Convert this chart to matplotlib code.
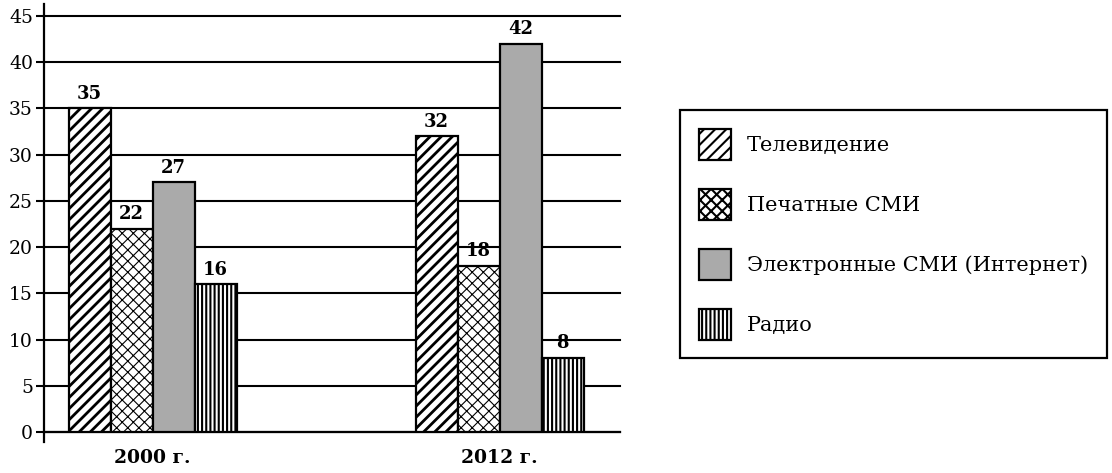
import numpy as np
import matplotlib
matplotlib.use("Agg")
import matplotlib.pyplot as plt
from matplotlib.lines import Line2D

years = ["2000 г.", "2012 г."]
media = ["Телевидение", "Печатные СМИ", "Электронные СМИ (Интернет)", "Радио"]
tv = [35, 32]
press = [22, 18]
internet = [27, 42]
radio = [16, 8]
yticks = list(range(0, 50, 5))

series = [tv, press, internet, radio]
styles = [
    dict(facecolor="white", hatch="///", hlw=2.0),
    dict(facecolor="white", hatch="xxx", hlw=0.8),
    dict(facecolor="#aaaaaa", hatch=None, hlw=1.0),
    dict(facecolor="white", hatch="||||", hlw=1.5),
]

plt.rcParams["font.family"] = ["DejaVu Serif"]

fig = plt.figure(figsize=(11.12, 4.73), dpi=100)
ax = fig.add_axes([44 / 1112, 1 - 432 / 473, (620 - 44) / 1112, (432 - 16) / 473])

x = np.arange(len(years))
w = 0.121
handles = []
for i, (vals, st) in enumerate(zip(series, styles)):
    pos = x + (i - 1.5) * w
    plt.rcParams["hatch.linewidth"] = st["hlw"]
    bars = ax.bar(pos, vals, width=w, facecolor=st["facecolor"], edgecolor="black",
                  hatch=st["hatch"], linewidth=1.6, zorder=3)
    for b in bars:
        try:
            b.set_hatch_linewidth(st["hlw"])
        except AttributeError:
            pass
    handles.append(bars[0])
    for p, v in zip(pos, vals):
        ax.text(p, v + 0.6, str(v), ha="center", va="bottom", fontsize=13,
                fontweight="bold", zorder=4)

ax.set_xlim(-0.3127, 1.347)
ax.set_ylim(0, 45)
ax.set_yticks(yticks)
ax.set_yticklabels([str(t) for t in yticks], fontsize=13.5)
ax.yaxis.grid(True, color="black", linewidth=1.5, zorder=0)
for gl in ax.get_ygridlines():
    gl.set_clip_on(False)
ax.set_axisbelow(True)
ax.tick_params(axis="y", direction="out", length=6, width=1.5, pad=2)
ax.set_xticks(x)
ax.set_xticklabels(years, fontsize=13.5, fontweight="bold")
ax.tick_params(axis="x", length=0, pad=12)
for s in ["top", "right", "left"]:
    ax.spines[s].set_visible(False)
ax.spines["bottom"].set_linewidth(1.6)
ax.add_line(Line2D([-0.3127, -0.3127], [-1.1, 46.3], color="black", linewidth=1.6,
                   clip_on=False, zorder=5))

leg = fig.legend(handles, media, loc="upper left",
                 bbox_to_anchor=(680 / 1112, 1 - 110 / 473), fontsize=15,
                 handlelength=1.55, handleheight=1.9, labelspacing=1.4,
                 handletextpad=0.75, borderpad=0.9, borderaxespad=0,
                 fancybox=False, framealpha=1, edgecolor="black")
leg.get_frame().set_linewidth(1.6)

fig.savefig("out.png", dpi=100)
